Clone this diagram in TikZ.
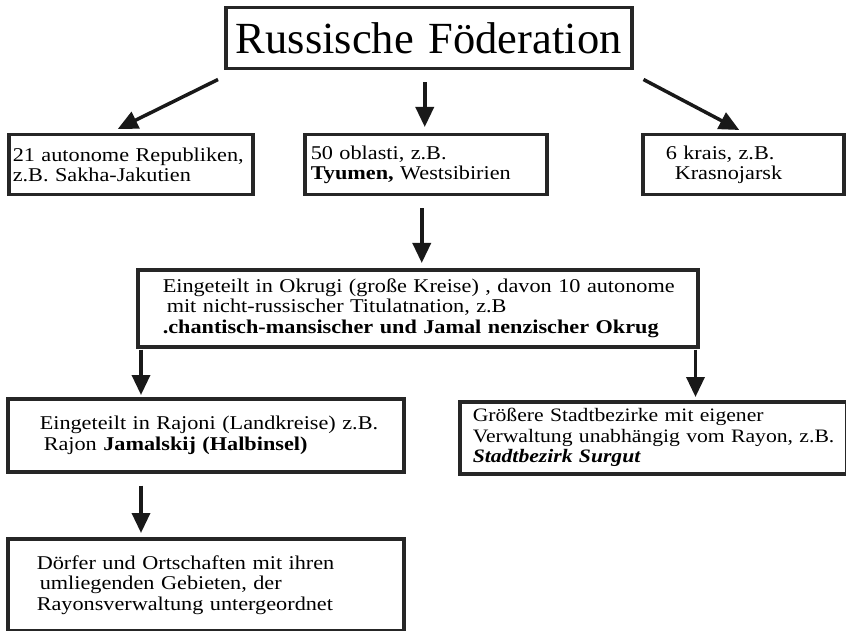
\documentclass[tikz,border=0pt]{standalone}
\usepackage{fontspec}
\setmainfont[FakeStretch=1.14]{Liberation Serif}
\newfontfamily\titlefont{Liberation Serif}
\usetikzlibrary{arrows.meta,calc}
\newcommand\oneline[1]{\mbox{#1}}
\begin{document}
\begin{tikzpicture}[x=1pt,y=1pt,
  bx/.style={draw=black!85, line width=3.5pt, fill=white, anchor=north west,
    align=left, inner ysep=0pt, font=\fontsize{19.5}{20.5}\selectfont},
  arr/.style={draw=black!90, line width=3.5pt, -{Triangle[length=20pt,width=18pt]}}]
\useasboundingbox (0,0) rectangle (846,-631);
% boxes
\node[bx, align=center, inner xsep=0pt, minimum width=406pt, minimum height=61pt, text width=406pt,
  font=\titlefont\fontsize{44.5}{48}\selectfont] (title) at (224,-6) {Russische Föderation};
\node[bx, minimum width=244pt, minimum height=60pt, inner xsep=4pt, text width=236pt] (r21) at (7,-133)
  {\oneline{21 autonome Republiken,}\\\oneline{z.B. Sakha-Jakutien}};
\node[bx, minimum width=242pt, minimum height=60pt, inner xsep=6pt, text width=230pt] (o50) at (303,-133)
  {\oneline{50 oblasti, z.B.}\\\oneline{\textbf{Tyumen,} Westsibirien}};
\node[bx, minimum width=201pt, minimum height=60pt, inner xsep=23pt, text width=155pt] (k6) at (641,-133)
  {\oneline{6 krais, z.B.}\\\oneline{\hspace{9pt}Krasnojarsk}};
\node[bx, minimum width=560pt, minimum height=77pt, inner xsep=25pt, text width=510pt] (ok) at (136,-268)
  {\oneline{Eingeteilt in Okrugi (große Kreise) , davon 10 autonome}\\
   \oneline{\hspace{4pt}mit nicht-russischer Titulatnation, z.B}\\
   \oneline{\textbf{.chantisch-mansischer und Jamal nenzischer Okrug}}};
\node[bx, minimum width=396pt, minimum height=73pt, inner xsep=32pt, text width=332pt] (raj) at (6,-397)
  {\oneline{Eingeteilt in Rajoni (Landkreise) z.B.}\\\oneline{\hspace{4pt}Rajon \textbf{Jamalskij (Halbinsel)}}};
\node[bx, minimum width=387pt, minimum height=72pt, inner xsep=13pt, text width=361pt,
  font=\fontsize{19}{20.5}\selectfont] (st) at (458,-400)
  {\oneline{Größere Stadtbezirke mit eigener}\\\oneline{Verwaltung unabhängig vom Rayon, z.B.}\\
   \oneline{\textbf{\itshape Stadtbezirk Surgut}}};
\node[bx, minimum width=396pt, minimum height=92pt, inner xsep=29pt, text width=338pt] (dorf) at (6,-537)
  {\oneline{Dörfer und Ortschaften mit ihren}\\\oneline{\hspace{3pt}umliegenden Gebieten, der}\\
   \oneline{Rayonsverwaltung untergeordnet}};
% arrows
\draw[arr] ([shift={(-6pt,-9pt)}]title.south west) -- ([shift={(-13pt,4pt)}]r21.north);
\draw[arr] ([shift={(-4pt,-12pt)}]title.south) -- ([shift={(-4pt,6pt)}]title.south |- o50.north);
\draw[arr] ([shift={(10pt,-9pt)}]title.south east) -- ([shift={(-4pt,3pt)}]k6.north);
\draw[arr] ([shift={(-4pt,-12pt)}]o50.south) -- ([shift={(-4pt,5pt)}]o50.south |- ok.north);
\draw[arr] ([shift={(5pt,-1pt)}]ok.south west) -- ([shift={(5pt,2pt)}]ok.south west |- raj.north);
\draw[arr] ([shift={(-4pt,-1pt)}]ok.south east) -- ([shift={(-4pt,3pt)}]ok.south east |- st.north);
\draw[arr] ([shift={(135pt,-12pt)}]raj.south west) -- ([shift={(135pt,4pt)}]raj.south west |- dorf.north);
\end{tikzpicture}
\end{document}
